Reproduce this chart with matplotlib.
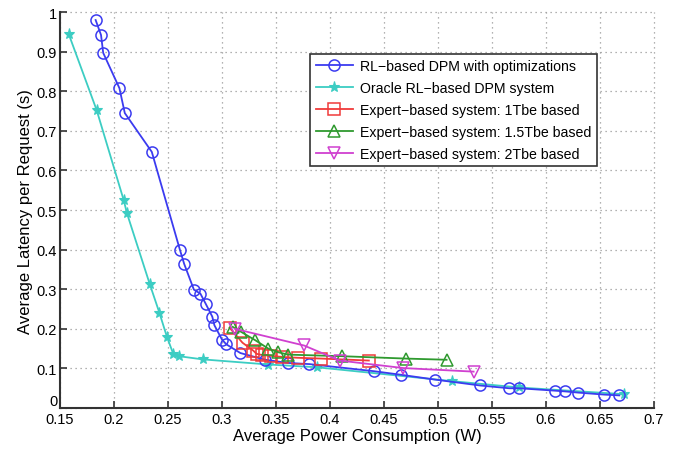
import matplotlib
matplotlib.use("Agg")
import matplotlib.pyplot as plt

plt.rcParams['font.family'] = ['Liberation Sans', 'DejaVu Sans']

# RL-based DPM with optimizations
rl_x = [0.183, 0.188, 0.190, 0.205, 0.210, 0.235, 0.261, 0.265, 0.274, 0.280, 0.285,
        0.291, 0.293, 0.300, 0.304, 0.317, 0.340, 0.361, 0.381, 0.441, 0.466, 0.497,
        0.539, 0.566, 0.575, 0.608, 0.618, 0.630, 0.654, 0.668]
rl_y = [0.980, 0.942, 0.897, 0.808, 0.745, 0.647, 0.400, 0.364, 0.299, 0.289, 0.263,
        0.231, 0.209, 0.173, 0.161, 0.139, 0.122, 0.114, 0.111, 0.093, 0.084, 0.072,
        0.057, 0.050, 0.050, 0.044, 0.042, 0.039, 0.034, 0.032]

# Oracle RL-based DPM system
or_x = [0.158, 0.184, 0.209, 0.212, 0.233, 0.242, 0.249, 0.255, 0.260, 0.282, 0.343,
        0.388, 0.513, 0.575, 0.672]
or_y = [0.945, 0.752, 0.525, 0.492, 0.314, 0.241, 0.180, 0.136, 0.131, 0.123, 0.110,
        0.103, 0.068, 0.052, 0.035]

# Expert-based system: 1Tbe based
e1_x = [0.307, 0.319, 0.329, 0.332, 0.337, 0.345, 0.356, 0.370, 0.392, 0.436]
e1_y = [0.203, 0.165, 0.145, 0.137, 0.134, 0.132, 0.129, 0.127, 0.125, 0.120]

# Expert-based system: 1.5Tbe based
e15_x = [0.310, 0.318, 0.331, 0.343, 0.352, 0.361, 0.411, 0.470, 0.508]
e15_y = [0.205, 0.192, 0.171, 0.150, 0.141, 0.135, 0.131, 0.125, 0.122]

# Expert-based system: 2Tbe based
e2_x = [0.312, 0.376, 0.409, 0.468, 0.533]
e2_y = [0.200, 0.158, 0.120, 0.101, 0.092]

labels = ["RL\u2212based DPM with optimizations",
          "Oracle RL\u2212based DPM system",
          "Expert\u2212based system: 1Tbe based",
          "Expert\u2212based system: 1.5Tbe based",
          "Expert\u2212based system: 2Tbe based"]

xticks = [0.15, 0.2, 0.25, 0.3, 0.35, 0.4, 0.45, 0.5, 0.55, 0.6, 0.65, 0.7]
xticklabels = ["0.15", "0.2", "0.25", "0.3", "0.35", "0.4", "0.45", "0.5", "0.55", "0.6", "0.65", "0.7"]
yticks = [0, 0.1, 0.2, 0.3, 0.4, 0.5, 0.6, 0.7, 0.8, 0.9, 1]
yticklabels = ["0", "0.1", "0.2", "0.3", "0.4", "0.5", "0.6", "0.7", "0.8", "0.9", "1"]

fig = plt.figure(figsize=(6.78, 4.52), dpi=100)
ax = fig.add_axes([0.0885, 0.095, 0.876, 0.876])

lw = 1.3
ax.plot(rl_x, rl_y, color='#3b3bf0', lw=lw, marker='o', ms=8, mfc='none', mew=1.1, label=labels[0], zorder=5)
ax.plot(or_x, or_y, color='#3ccdc3', lw=lw, marker='*', ms=8, mew=0.8, label=labels[1], zorder=4)
ax.plot(e1_x, e1_y, color='#f03a3a', lw=lw, marker='s', ms=8, mfc='none', mew=1.1, label=labels[2], zorder=6)
ax.plot(e15_x, e15_y, color='#2f9a2f', lw=lw, marker='^', ms=9, mfc='none', mew=1.1, label=labels[3], zorder=6)
ax.plot(e2_x, e2_y, color='#d040d0', lw=lw, marker='v', ms=9, mfc='none', mew=1.1, label=labels[4], zorder=6)

ax.set_xlim(0.15, 0.7)
ax.set_ylim(0, 1)
ax.set_xticks(xticks)
ax.set_xticklabels(xticklabels)
ax.set_yticks(yticks)
ax.set_yticklabels(yticklabels)
ax.tick_params(direction='in', length=5, width=1.2, labelsize=10.5, color='#333333', pad=3)
ax.tick_params(axis='y', pad=2)
ax.get_yticklabels()[0].set_va('bottom')
ax.grid(True, linestyle=(0, (1, 3)), color='#999999', lw=0.9)
for s in ['top', 'right']:
    ax.spines[s].set_visible(False)
for s in ['left', 'bottom']:
    ax.spines[s].set_linewidth(1.5)
    ax.spines[s].set_color('#333333')
for gl in ax.get_xgridlines() + ax.get_ygridlines():
    gl.set_clip_on(False)

ax.set_xlabel("Average Power Consumption (W)", fontsize=12, labelpad=1)
ax.set_ylabel("Average Latency per Request (s)", fontsize=12, labelpad=3)

leg = ax.legend(loc='upper left', bbox_to_anchor=(0.421, 0.895), fontsize=10.2,
                frameon=True, fancybox=False, edgecolor='#333333', framealpha=1,
                borderpad=0.4, labelspacing=0.55, handlelength=2.6, handletextpad=0.5,
                borderaxespad=0)
leg.get_frame().set_linewidth(1.2)

fig.savefig("out.png", dpi=100)
